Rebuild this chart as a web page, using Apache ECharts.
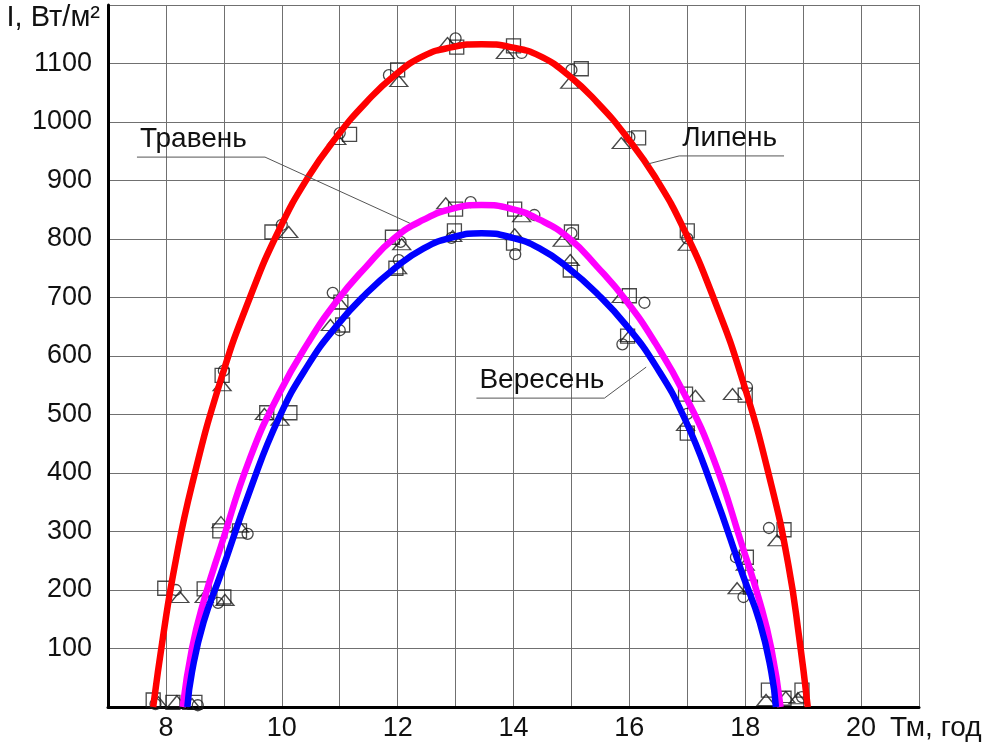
<!DOCTYPE html>
<html>
<head>
<meta charset="utf-8">
<title>Інтенсивність сонячного випромінювання</title>
<script src="https://cdn.jsdelivr.net/npm/echarts@6/dist/echarts.min.js"></script>
<style>
html, body { margin: 0; padding: 0; background: #fff; }
#main { width: 995px; height: 749px; }
</style>
</head>
<body>
<div id="main"></div>
<script>
// tick labels
var xTickLabels = [8, 10, 12, 14, 16, 18, 20];
var yTickLabels = [100, 200, 300, 400, 500, 600, 700, 800, 900, 1000, 1100];

// fitted curves, [hour, W/m2]
var curveJuly = [[7.78,0],[7.95,120],[8.15,240],[8.45,380],[8.95,560],[9.45,700],[9.95,815],[10.45,905],[10.95,975],[11.45,1033],[11.95,1080],[12.45,1113],[12.95,1128],[13.45,1133],[13.95,1128],[14.45,1113],[14.95,1080],[15.45,1033],[15.95,975],[16.45,905],[16.95,815],[17.45,700],[17.95,560],[18.45,380],[18.75,240],[18.93,120],[19.08,0]];
var curveMay = [[8.29,0],[8.45,100],[8.65,180],[8.95,275],[9.45,425],[9.95,535],[10.45,622],[10.95,694],[11.45,752],[11.95,802],[12.45,833],[12.95,852],[13.45,858],[13.95,852],[14.45,833],[14.95,802],[15.45,752],[15.95,694],[16.45,622],[16.95,535],[17.45,425],[17.95,275],[18.25,180],[18.45,100],[18.61,0]];
var curveSept = [[8.37,0],[8.45,60],[8.65,145],[8.95,228],[9.45,370],[9.95,494],[10.45,584],[10.95,652],[11.45,706],[11.95,750],[12.45,784],[12.95,803],[13.45,810],[13.95,803],[14.45,784],[14.95,750],[15.45,706],[15.95,652],[16.45,584],[16.95,494],[17.45,370],[17.95,228],[18.25,145],[18.45,60],[18.53,0]];

// measured points by marker shape
var squarePoints = [
    [7.78,12],[7.98,203],[8.97,567],[9.83,812],[11.17,979],[12.0,1089],[13.02,1128],[14.0,1130],[15.17,1091],[16.16,973],[17.0,814],[18.0,533],[18.67,303],[18.98,29],
    [8.12,8],[8.66,202],[8.93,301],[9.74,503],[11.02,692],[11.91,803],[13.0,851],[14.02,851],[15.0,812],[16.0,703],[16.97,535],[18.02,256],[18.4,29],
    [8.5,8],[9.0,188],[9.27,301],[10.14,503],[11.05,653],[11.97,750],[12.98,814],[14.0,793],[14.98,747],[15.97,634],[17.0,468],[18.09,205],[18.67,15]
];
var circlePoints = [
    [7.82,5],[8.17,200],[9.0,575],[10.0,824],[11.0,981],[11.85,1080],[13.0,1143],[14.14,1118],[15.0,1089],[16.0,974],[17.0,801],[18.03,547],[18.41,306],[18.98,17],
    [10.88,708],[12.05,795],[13.26,863],[14.36,841],[15.0,810],[16.26,691],[17.84,256],
    [8.55,3],[8.9,178],[9.41,296],[11.0,644],[12.02,764],[12.93,802],[14.03,774],[15.88,620],[17.0,501],[17.97,188]
];
var trianglePoints = [
    [7.87,8],[8.24,188],[8.97,550],[10.12,812],[10.95,971],[12.02,1070],[12.86,1135],[13.86,1118],[14.97,1067],[15.86,964],[17.0,790],[17.78,535],[18.55,285],[18.91,15],
    [8.19,10],[8.66,188],[8.95,316],[9.7,501],[11.0,690],[12.07,791],[12.83,861],[14.14,839],[14.84,797],[15.86,701],[17.14,532],[18.0,243],[18.36,12],
    [8.45,5],[9.02,183],[9.27,308],[9.97,491],[10.84,653],[12.0,750],[12.95,805],[14.02,808],[14.98,764],[16.0,634],[16.97,482],[17.86,203],[18.7,17]
];

// curve captions with leader lines
var captionNames = ['Травень', 'Липень', 'Вересень'];
var captionLines = [
    [[7.5,940],[9.71,940],[12.21,827]],
    [[16.31,928],[16.86,942],[18.67,942]],
    [[13.36,528],[15.57,528],[16.29,581]]
];
var captionAnchor = [0, 1, 0];

var FONT = "'Liberation Sans', Arial, sans-serif";

function captionSeries(i) {
    var data = captionLines[i].map(function (p, k) {
        var item = {value: p};
        if (k === captionAnchor[i]) {
            item.label = {show: true, formatter: captionNames[i]};
        }
        return item;
    });
    return {
        type: 'line',
        data: data,
        symbol: 'circle',
        symbolSize: 1,
        showSymbol: true,
        itemStyle: {color: 'rgba(0,0,0,0)'},
        lineStyle: {color: '#555', width: 1},
        label: {
            show: false, position: 'top', align: 'left', distance: 3, offset: [3, 0],
            color: '#111', fontSize: 28, fontFamily: FONT
        },
        silent: true,
        z: 4
    };
}

function markerSeries(points, symbol, size) {
    return {
        type: 'scatter',
        data: points,
        symbol: symbol,
        symbolSize: size,
        itemStyle: {color: 'rgba(0,0,0,0)', borderColor: '#1a1a1a', borderWidth: 1.3},
        silent: true,
        z: 2
    };
}

function curveSeries(points, color) {
    return {
        type: 'line',
        data: points,
        smooth: 0.5,
        showSymbol: false,
        lineStyle: {color: color, width: 6.5},
        silent: true,
        z: 3
    };
}

function drawChart() {
    var chart = echarts.init(document.getElementById('main'));
    var option = {
        animation: false,
        backgroundColor: '#fff',
        grid: {left: 108, right: 76, top: 5, bottom: 42, containLabel: false, outerBoundsMode: 'none'},
        xAxis: {
            type: 'value', min: 7, max: 21, interval: 1,
            name: 'Тм, год', nameLocation: 'end', nameGap: -29,
            nameTextStyle: {fontSize: 28, color: '#111', fontFamily: FONT, align: 'left', verticalAlign: 'top', padding: [7, 0, 0, 0]},
            axisLine: {show: true, lineStyle: {color: '#000', width: 3}},
            axisTick: {show: false},
            axisLabel: {
                margin: 8, fontSize: 27, color: '#111', fontFamily: FONT,
                formatter: function (v) { return xTickLabels.indexOf(v) >= 0 ? String(v) : ''; }
            },
            splitLine: {lineStyle: {color: '#707070', width: 1}}
        },
        yAxis: {
            type: 'value', min: 0, max: 1200, interval: 100,
            name: 'I, Вт/м²', nameLocation: 'end', nameGap: -13,
            nameTextStyle: {fontSize: 29, color: '#111', fontFamily: FONT, align: 'right', verticalAlign: 'middle', padding: [0, 8, 0, 0]},
            axisLine: {show: true, lineStyle: {color: '#000', width: 3}},
            axisTick: {show: false},
            axisLabel: {
                margin: 16, fontSize: 27, color: '#111', fontFamily: FONT,
                formatter: function (v) { return yTickLabels.indexOf(v) >= 0 ? String(v) : ''; }
            },
            splitLine: {lineStyle: {color: '#707070', width: 1}}
        },
        series: [
            markerSeries(squarePoints, 'rect', 14),
            markerSeries(circlePoints, 'circle', 11),
            markerSeries(trianglePoints, 'triangle', [18, 11]),
            curveSeries(curveJuly, '#ff0000'),
            curveSeries(curveMay, '#ff00ff'),
            curveSeries(curveSept, '#0000ff'),
            captionSeries(0),
            captionSeries(1),
            captionSeries(2)
        ]
    };
    chart.setOption(option);
}

drawChart();
</script>
</body>
</html>
